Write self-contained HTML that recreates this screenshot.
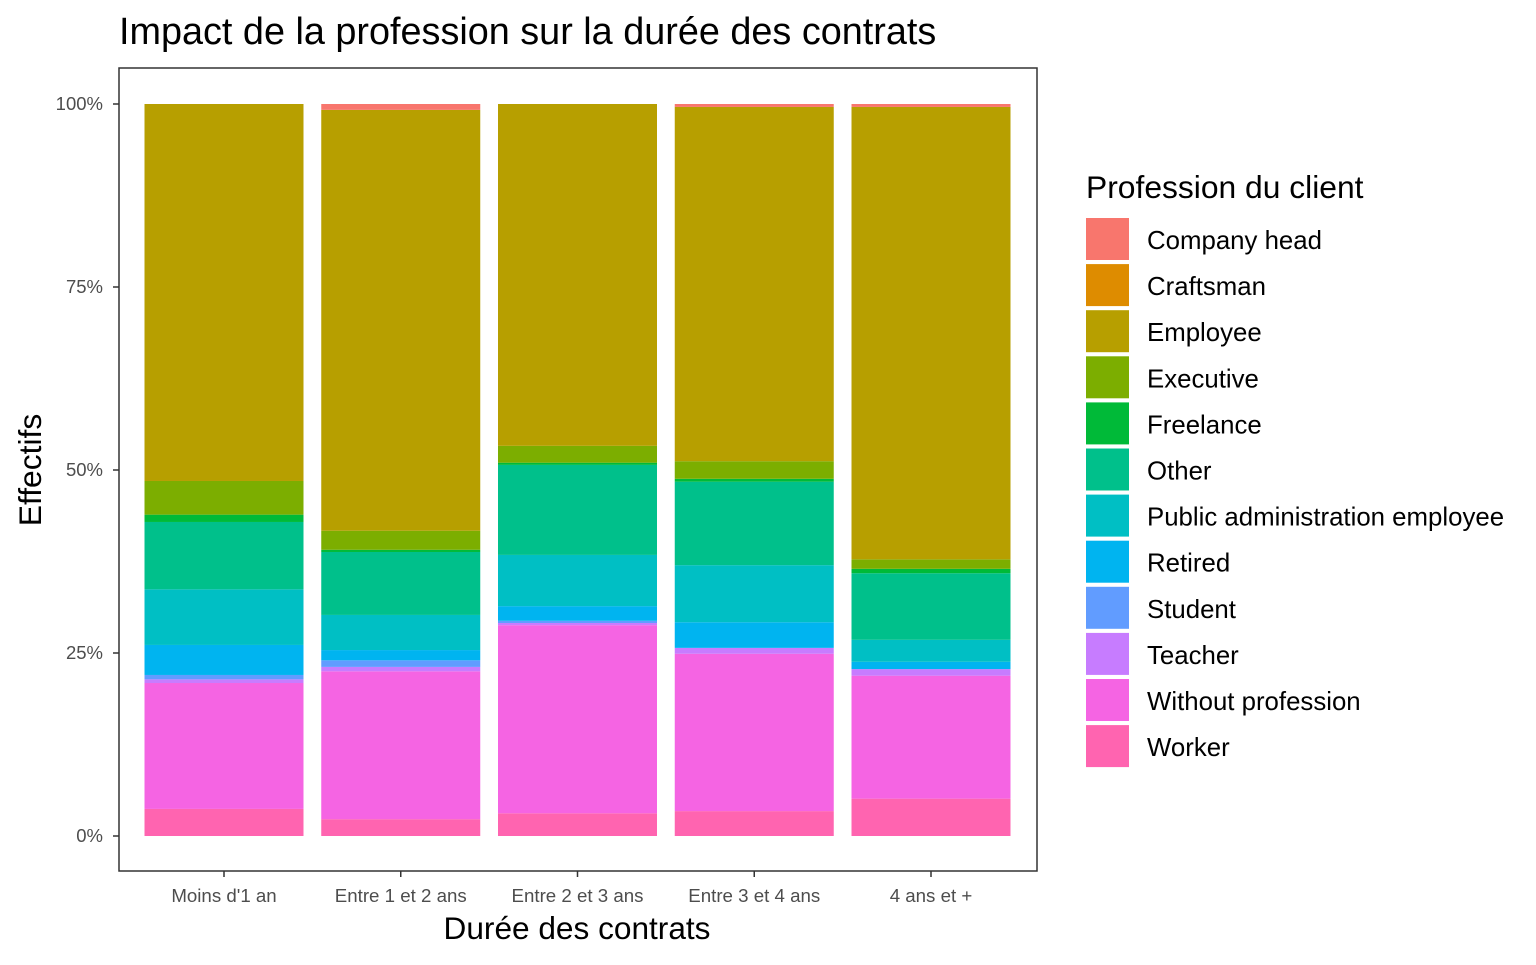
<!DOCTYPE html>
<html><head><meta charset="utf-8"><style>
body{margin:0;background:#fff;font-family:"Liberation Sans",Arial,sans-serif;}
svg text{font-family:"Liberation Sans",Arial,sans-serif;}
</style></head><body>
<svg id="chart" width="1536" height="960">
<text x="119" y="44" font-size="37.8" fill="#000">Impact de la profession sur la durée des contrats</text>
<rect x="119" y="68" width="918" height="803" fill="#fff" stroke="#333" stroke-width="1.5"/>
<g id="bars"></g><g id="axes"></g><g id="legend"></g>
<text x="577" y="939" font-size="31.6" text-anchor="middle">Durée des contrats</text>
<text transform="translate(41,470) rotate(-90)" font-size="31.8" text-anchor="middle">Effectifs</text>
<text x="1086" y="198" font-size="31.8">Profession du client</text>
</svg>
<script>
const categories=["Moins d'1 an","Entre 1 et 2 ans","Entre 2 et 3 ans","Entre 3 et 4 ans","4 ans et +"];
const professions=["Company head","Craftsman","Employee","Executive","Freelance","Other","Public administration employee","Retired","Student","Teacher","Without profession","Worker"];
const colors=["#F8766D","#DE8C00","#B79F00","#7CAE00","#00BA38","#00C08B","#00BFC4","#00B4F0","#619CFF","#C77CFF","#F564E3","#FF64B0"];
const companyHead=[0,0.8,0,0.4,0.4];
const craftsman=[0,0,0,0,0];
const employee=[51.5,57.5,46.7,48.4,61.8];
const executive=[4.6,2.6,2.3,2.4,1.3];
const freelance=[1.0,0.3,0.3,0.4,0.6];
const other=[9.2,8.6,12.3,11.4,9.1];
const publicAdmin=[7.6,4.8,7.0,7.8,3.0];
const retired=[4.1,1.4,2.0,3.5,1.0];
const student=[0.6,0.9,0.3,0,0];
const teacher=[0.5,0.6,0.3,0.8,0.9];
const withoutProf=[17.2,20.2,25.7,21.5,16.8];
const worker=[3.7,2.3,3.1,3.4,5.1];
const yTicks=[0,25,50,75,100];
const yTickLabels=["0%","25%","50%","75%","100%"];

const series=[companyHead,craftsman,employee,executive,freelance,other,publicAdmin,retired,student,teacher,withoutProf,worker];
const NS="http://www.w3.org/2000/svg";
const y0=836,y1=104;
function yScale(p){return y0-(y0-y1)*p/100;}
function xCenter(i){return 224+i*176.75;}
const bw=159;
const gb=document.getElementById('bars');
categories.forEach((c,i)=>{
  let total=0;series.forEach(s=>total+=s[i]);
  let cum=0;
  for(let k=series.length-1;k>=0;k--){
    const v=series[k][i]/total*100;
    if(v<=0)continue;
    const r=document.createElementNS(NS,'rect');
    r.setAttribute('x',xCenter(i)-bw/2);
    r.setAttribute('y',yScale(cum+v));
    r.setAttribute('width',bw);
    r.setAttribute('height',yScale(cum)-yScale(cum+v));
    r.setAttribute('fill',colors[k]);
    
    
    gb.appendChild(r);cum+=v;
  }
});
const ga=document.getElementById('axes');
yTicks.forEach((t,j)=>{
  const l=document.createElementNS(NS,'line');
  l.setAttribute('x1',113);l.setAttribute('x2',119);l.setAttribute('y1',yScale(t));l.setAttribute('y2',yScale(t));l.setAttribute('stroke','#333');l.setAttribute('stroke-width','1.5');
  
  
  ga.appendChild(l);
  const tx=document.createElementNS(NS,'text');
  tx.setAttribute('x',103);tx.setAttribute('y',yScale(t)+6);tx.setAttribute('text-anchor','end');tx.setAttribute('font-size','18.5');tx.setAttribute('fill','#4d4d4d');
  tx.textContent=yTickLabels[j];
  
  
  ga.appendChild(tx);
});
categories.forEach((c,i)=>{
  const l=document.createElementNS(NS,'line');
  l.setAttribute('x1',xCenter(i));l.setAttribute('x2',xCenter(i));l.setAttribute('y1',871);l.setAttribute('y2',877);l.setAttribute('stroke','#333');l.setAttribute('stroke-width','1.5');
  
  
  ga.appendChild(l);
  const tx=document.createElementNS(NS,'text');
  tx.setAttribute('x',xCenter(i));tx.setAttribute('y',902);tx.setAttribute('text-anchor','middle');tx.setAttribute('font-size','18.7');tx.setAttribute('fill','#4d4d4d');
  tx.textContent=c;
  
  
  ga.appendChild(tx);
});
const gl=document.getElementById('legend');
professions.forEach((p,k)=>{
  const yy=218+k*46.1;
  const r=document.createElementNS(NS,'rect');
  r.setAttribute('x',1086);r.setAttribute('y',yy);r.setAttribute('width',43);r.setAttribute('height',42);r.setAttribute('fill',colors[k]);
  
  
  gl.appendChild(r);
  const tx=document.createElementNS(NS,'text');
  tx.setAttribute('x',1147);tx.setAttribute('y',yy+31);tx.setAttribute('font-size','25.8');
  tx.textContent=p;
  
  
  gl.appendChild(tx);
});
</script>
</body></html>
